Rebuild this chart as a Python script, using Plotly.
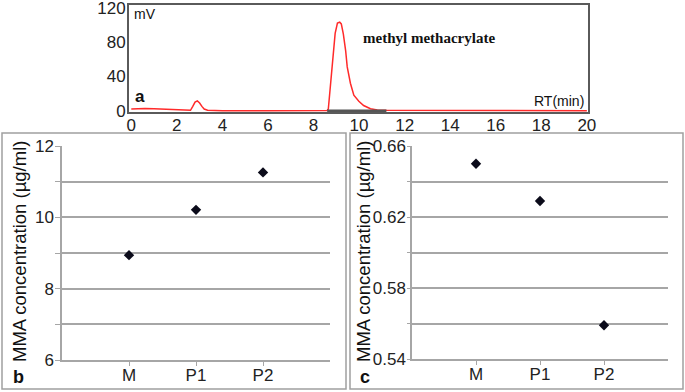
import plotly.graph_objects as go

# ---- data ----
# panel a: chromatogram (RT in min, signal in mV)
rt = [0, 0.3, 0.6, 1.0, 1.5, 2.0, 2.3, 2.6, 2.7, 2.8, 2.9, 3.0, 3.1, 3.2, 3.35, 3.6, 4.0, 6.0, 8.0,
      8.6, 8.65, 8.75, 8.85, 8.95, 9.05, 9.15, 9.22, 9.31, 9.41, 9.48, 9.62, 9.77, 9.99, 10.2, 10.5,
      10.8, 11.2, 12.0, 12.3, 14, 16, 18, 20]
mv = [2, 2.5, 2.5, 2.2, 1.5, 1.0, 0.5, 0.5, 5, 10, 11.5, 9, 5, 2, 0.5, 0.2, 0, 0, 0,
      0.3, 2, 30, 65, 90, 102, 103, 101, 89, 70, 51, 32, 18, 11, 6, 2.3,
      0.8, 0.5, 0.5, 0, 0, 0, 0, 0]
integration = [8.6, 11.2]

# panels b and c
samples = ["M", "P1", "P2"]
conc_b = [8.94, 10.21, 11.26]
conc_c = [0.650, 0.629, 0.559]

W, H = 685, 392
def px(x): return x / W
def py(y): return 1 - y / H

FONT = "Liberation Sans, Arial, sans-serif"
GRID = "#a6a6a6"

fig = go.Figure()

fig.add_trace(go.Scatter(x=rt, y=mv, mode="lines", line=dict(color="#ff2a2a", width=1.5),
                         xaxis="x", yaxis="y", showlegend=False))
fig.add_trace(go.Scatter(x=integration, y=[0, 0], mode="lines", line=dict(color="#555555", width=2.5),
                         xaxis="x", yaxis="y", showlegend=False))
fig.add_trace(go.Scatter(x=samples, y=conc_b, mode="markers",
                         marker=dict(symbol="diamond", size=8, color="#0b0b1a"),
                         xaxis="x2", yaxis="y2", showlegend=False))
fig.add_trace(go.Scatter(x=samples, y=conc_c, mode="markers",
                         marker=dict(symbol="diamond", size=8, color="#0b0b1a"),
                         xaxis="x3", yaxis="y3", showlegend=False))

tickfont = dict(family=FONT, size=17, color="#222222")

layout = dict(
    width=W, height=H, margin=dict(l=0, r=0, t=0, b=0, autoexpand=False),
    paper_bgcolor="white", plot_bgcolor="white",
    xaxis=dict(domain=[px(129), px(588)], range=[-0.1, 20.05], tickvals=list(range(0, 21, 2)),
               showgrid=False, zeroline=False, showline=True, mirror=True, linecolor="#5a5a5a",
               linewidth=2, ticks="", tickfont=tickfont, anchor="y", layer="below traces",
               automargin=False, ticklabelstandoff=-3, ticklabeloverflow="allow"),
    yaxis=dict(domain=[py(112), py(5)], range=[-1.5, 123], tickvals=[0, 40, 80, 120],
               showgrid=False, zeroline=False, showline=True, mirror=True, linecolor="#5a5a5a",
               linewidth=2, ticks="", tickfont=tickfont, anchor="x", ticklabelstandoff=-2,
               automargin=False, ticklabeloverflow="allow"),
    xaxis2=dict(domain=[px(62), px(330)], range=[-1, 3], type="category",
                showgrid=False, zeroline=False, showline=True, linecolor=GRID, linewidth=1.5,
                ticks="outside", ticklen=4, tickcolor=GRID, tickfont=tickfont, anchor="y2",
                automargin=False, ticklabelstandoff=-5),
    yaxis2=dict(domain=[py(360), py(146)], range=[6, 12], tickvals=[6, 7, 8, 9, 10, 11, 12],
                ticktext=["6", "", "8", "", "10", "", "12"],
                showgrid=True, gridcolor=GRID, gridwidth=1.5, zeroline=False, showline=True,
                linecolor=GRID, linewidth=1.5, ticks="outside", ticklen=5, tickcolor=GRID,
                tickfont=tickfont, anchor="x2", automargin=False, ticklabelstandoff=-2,
                ticklabeloverflow="allow"),
    xaxis3=dict(domain=[px(412), px(668)], range=[-1, 3], type="category",
                showgrid=False, zeroline=False, showline=True, linecolor=GRID, linewidth=1.5,
                ticks="outside", ticklen=4, tickcolor=GRID, tickfont=tickfont, anchor="y3",
                automargin=False, ticklabelstandoff=-5),
    yaxis3=dict(domain=[py(359), py(146)], range=[0.54, 0.66],
                tickvals=[0.54, 0.56, 0.58, 0.60, 0.62, 0.64, 0.66],
                ticktext=["0.54", "", "0.58", "", "0.62", "", "0.66"],
                showgrid=True, gridcolor=GRID, gridwidth=1.5, zeroline=False, showline=True,
                linecolor=GRID, linewidth=1.5, ticks="outside", ticklen=3, tickcolor=GRID,
                tickfont=tickfont, anchor="x3", automargin=False, ticklabelstandoff=-2,
                ticklabeloverflow="allow"),
)
fig.update_layout(**layout)

# panel frames
for x0, x1 in [(2, 346), (350, 683)]:
    fig.add_shape(type="rect", xref="paper", yref="paper", x0=px(x0), x1=px(x1), y0=py(389), y1=py(133),
                  line=dict(color="#a0a0a0", width=1.5), layer="below")

def ann(text, x, y, size, xanchor="left", bold=False, family=FONT, angle=0, color="#111111"):
    fig.add_annotation(text=f"<b>{text}</b>" if bold else text, x=px(x), y=py(y), xref="paper", yref="paper",
                       showarrow=False, xanchor=xanchor, yanchor="middle", textangle=angle,
                       font=dict(family=family, size=size, color=color))

ann("mV", 132, 14, 14)
ann("RT(min)", 586, 101, 14, xanchor="right")
ann("a", 133, 96, 17, bold=True)
ann("methyl methacrylate", 361, 38, 15, bold=True, family="Liberation Serif, Times New Roman, serif")
ann("b", 11, 377, 18, bold=True)
ann("c", 358, 377, 18, bold=True)
ann("MMA concentration (µg/ml)", 19, 252, 18.5, xanchor="center", angle=-90)
ann("MMA concentration (µg/ml)", 363, 252, 18.5, xanchor="center", angle=-90)

fig.write_html("out.html", config={"displayModeBar": False},
               post_script="document.body.style.margin='0';document.body.style.overflow='hidden';")
